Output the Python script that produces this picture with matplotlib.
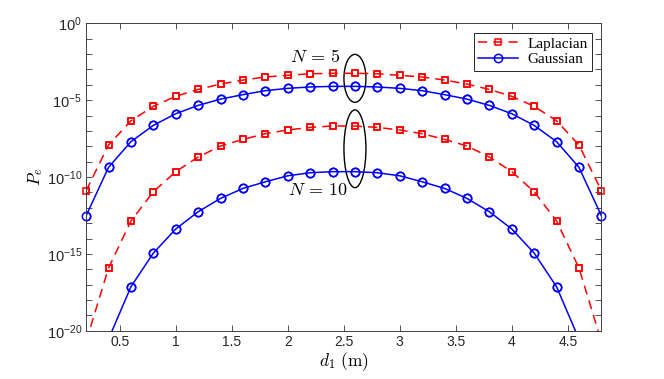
import numpy as np
import matplotlib
matplotlib.use("Agg")
import matplotlib.pyplot as plt
from matplotlib.patches import Ellipse
from matplotlib.ticker import FixedLocator, FuncFormatter, NullLocator

plt.rcParams['mathtext.fontset'] = 'cm'

# distance d1 (m)
d1 = [0.2, 0.4, 0.6, 0.8, 1.0, 1.2, 1.4, 1.6, 1.8, 2.0, 2.2, 2.4,
      2.6, 2.8, 3.0, 3.2, 3.4, 3.6, 3.8, 4.0, 4.2, 4.4, 4.6, 4.8]

# log10 of error probability
lap_n5 = [-10.89, -7.92, -6.34, -5.40, -4.75, -4.30, -3.95, -3.69, -3.49, -3.38, -3.28, -3.25,
          -3.25, -3.28, -3.38, -3.49, -3.69, -3.95, -4.30, -4.75, -5.40, -6.34, -7.92, -10.89]
gau_n5 = [-12.52, -9.37, -7.70, -6.64, -5.88, -5.34, -4.93, -4.64, -4.38, -4.23, -4.14, -4.10,
          -4.10, -4.14, -4.23, -4.38, -4.64, -4.93, -5.34, -5.88, -6.64, -7.70, -9.37, -12.52]
lap_n10 = [-20.7, -15.92, -12.86, -10.96, -9.65, -8.70, -7.98, -7.55, -7.18, -6.94, -6.77, -6.68,
           -6.68, -6.77, -6.94, -7.18, -7.55, -7.98, -8.70, -9.65, -10.96, -12.86, -15.92, -20.7]
gau_n10 = [-26.0, -20.55, -17.14, -14.95, -13.38, -12.26, -11.39, -10.74, -10.31, -9.92, -9.72, -9.65,
           -9.65, -9.72, -9.92, -10.31, -10.74, -11.39, -12.26, -13.38, -14.95, -17.14, -20.55, -26.0]

x_ticks = [0.5, 1, 1.5, 2, 2.5, 3, 3.5, 4, 4.5]
y_labels = [0, -5, -10, -15, -20]

fig = plt.figure(figsize=(6.64, 3.79), dpi=100)
ax = fig.add_axes([0.1297, 0.1274, 0.776, 0.811])

x = np.array(d1)
red_style = dict(color='r', ls=(0, (6, 4)), lw=1.1, marker='s', ms=4.2,
                 mfc='none', mec='r', mew=1.1)
blue_style = dict(color='b', ls='-', lw=1.1, marker='o', ms=6.0,
                  mfc='none', mec='b', mew=1.1)

ax.plot(x, 10.0 ** np.array(lap_n5), label='Laplacian', **red_style)
ax.plot(x, 10.0 ** np.array(gau_n5), label='Gaussian', **blue_style)
ax.plot(x, 10.0 ** np.array(lap_n10), **red_style)
ax.plot(x, 10.0 ** np.array(gau_n10), **blue_style)

# markers on the edges are not clipped (like MATLAB)
for ys, st in [(lap_n5, red_style), (gau_n5, blue_style),
               (lap_n10, red_style), (gau_n10, blue_style)]:
    ys = np.array(ys)
    m = ys >= -20
    ax.plot(x[m], 10.0 ** ys[m], ls='none', marker=st['marker'], ms=st['ms'],
            mfc='none', mec=st['mec'], mew=st['mew'], clip_on=False)

ax.set_yscale('log')
ax.set_xlim(0.2, 4.8)
ax.set_ylim(1e-20, 1e0)

ax.xaxis.set_major_locator(FixedLocator(x_ticks))
ax.xaxis.set_minor_locator(NullLocator())
ax.set_xticklabels(['%g' % t for t in x_ticks], fontsize=10, family='Liberation Sans')

ax.yaxis.set_major_locator(FixedLocator([10.0 ** k for k in range(-20, 1)]))
ax.yaxis.set_minor_locator(NullLocator())
ax.yaxis.set_major_formatter(FuncFormatter(
    lambda v, p: r'$\mathregular{10^{%d}}$' % round(np.log10(v))
    if round(np.log10(v)) in y_labels else ''))
for lab in ax.get_yticklabels():
    lab.set_fontsize(10.5)
    lab.set_family('Liberation Sans')

ax.tick_params(which='both', direction='in', length=4, width=0.6,
               top=True, right=True, colors='0.2', labelcolor='0.15', pad=3)
for s in ax.spines.values():
    s.set_color('0.25')
    s.set_linewidth(0.7)

ax.set_xlabel(r'$d_1\ \mathrm{(m)}$', fontsize=12.5, labelpad=1)
ax.set_ylabel(r'$P_e$', fontsize=12.5, labelpad=1)

# ellipses grouping the curves
ax.add_patch(Ellipse((0.5217, 0.821), 0.0427, 0.156, transform=ax.transAxes,
                     fill=False, ec='k', lw=1.0))
ax.add_patch(Ellipse((0.5217, 0.592), 0.0427, 0.253, transform=ax.transAxes,
                     fill=False, ec='k', lw=1.0))
ax.text(0.444, 0.890, r'$N\,=\,5$', transform=ax.transAxes, fontsize=13,
        ha='center', va='center')
ax.text(0.450, 0.458, r'$N\,=\,10$', transform=ax.transAxes, fontsize=13,
        ha='center', va='center')

leg = ax.legend(loc='upper right', prop={'family': 'Liberation Serif', 'size': 11},
                fancybox=False, edgecolor='0.15', framealpha=1, handlelength=2.6,
                borderpad=0.3, labelspacing=0.1, handletextpad=0.6,
                borderaxespad=0.6)
leg.get_frame().set_linewidth(0.7)

fig.savefig('out.png', dpi=100)
